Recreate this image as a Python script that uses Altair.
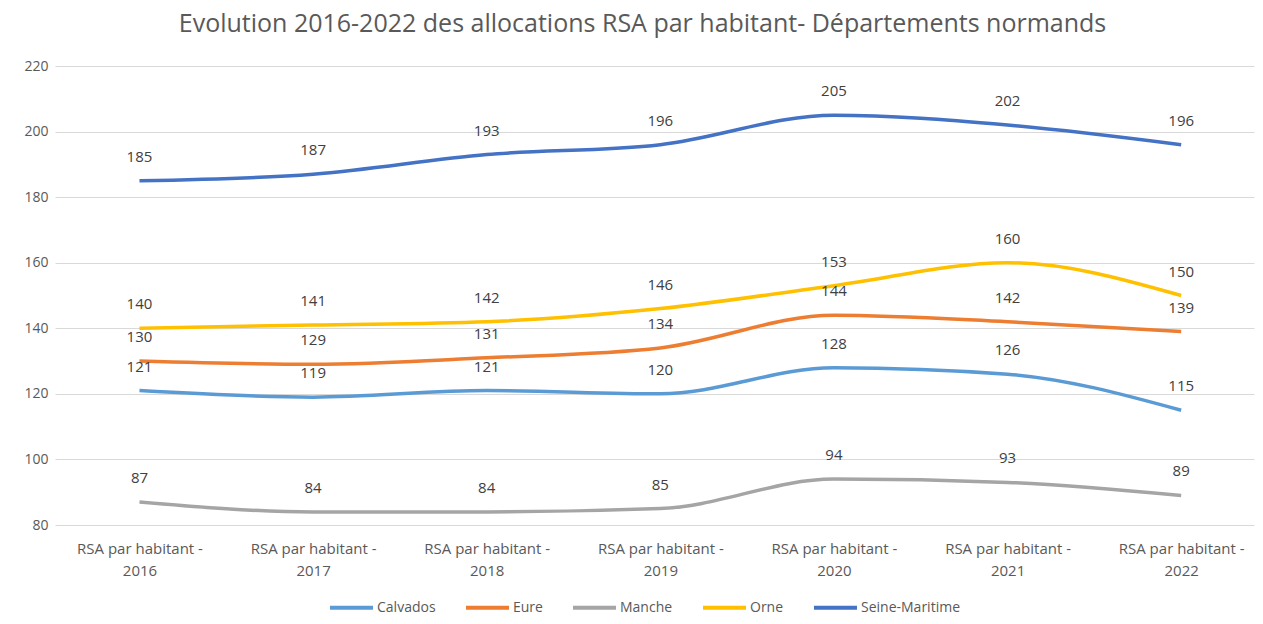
import altair as alt
import pandas as pd

years = ["RSA par habitant - 2016", "RSA par habitant - 2017", "RSA par habitant - 2018",
         "RSA par habitant - 2019", "RSA par habitant - 2020", "RSA par habitant - 2021",
         "RSA par habitant - 2022"]
departements = ["Calvados", "Eure", "Manche", "Orne", "Seine-Maritime"]
calvados = [121, 119, 121, 120, 128, 126, 115]
eure = [130, 129, 131, 134, 144, 142, 139]
manche = [87, 84, 84, 85, 94, 93, 89]
orne = [140, 141, 142, 146, 153, 160, 150]
seine_maritime = [185, 187, 193, 196, 205, 202, 196]
colors = ["#5B9BD5", "#ED7D31", "#A5A5A5", "#FFC000", "#4472C4"]
y_ticks = [80, 100, 120, 140, 160, 180, 200, 220]

series = [calvados, eure, manche, orne, seine_maritime]
rows = []
for d, vals in zip(departements, series):
    for i, (yr, v) in enumerate(zip(years, vals)):
        rows.append({"annee": yr, "ordre": i, "departement": d, "valeur": v})
df = pd.DataFrame(rows)

FONT = "Open Sans"
GREY = "#595959"

x_enc = alt.X("annee:N", sort=years, title=None,
              scale=alt.Scale(type="point", padding=0.453, align=0.537),
              axis=alt.Axis(labelExpr="[slice(datum.label, 0, 18), slice(datum.label, 19)]",
                            labelAngle=0, labelFontSize=15, labelColor=GREY, labelFont=FONT,
                            labelLineHeight=22, labelPadding=16, domain=False, ticks=False,
                            grid=False, labelBaseline="top"))
y_enc = alt.Y("valeur:Q", title=None,
              scale=alt.Scale(domain=[80, 220], nice=False, zero=False),
              axis=alt.Axis(values=y_ticks, labelFontSize=14, labelColor=GREY, labelFont=FONT,
                            labelPadding=7, domain=False, ticks=False, grid=True,
                            gridColor="#D9D9D9", gridWidth=1))
color_enc = alt.Color("departement:N", title=None,
                      scale=alt.Scale(domain=departements, range=colors),
                      legend=alt.Legend(orient="none", direction="horizontal",
                                        legendX=273, legendY=518,
                                        symbolType="stroke", symbolSize=1849,
                                        symbolStrokeWidth=4, labelOffset=2,
                                        columnPadding=22, labelFontSize=14,
                                        labelColor=GREY, labelFont=FONT))

base = alt.Chart(df)
lines = base.mark_line(interpolate="monotone", strokeWidth=3.5).encode(
    x=x_enc, y=y_enc, color=color_enc, order="ordre:Q")
labels = base.mark_text(dy=-24, fontSize=15, color="#404040", font=FONT).encode(
    x=alt.X("annee:N", sort=years), y="valeur:Q", text="valeur:Q")

chart = (lines + labels).properties(
    width=1199, height=459,
    title=alt.TitleParams("Evolution  2016-2022 des allocations RSA par habitant- Départements normands",
                          fontSize=25, font=FONT, fontWeight="normal", color=GREY,
                          anchor="middle", offset=22, dx=-12),
    autosize=alt.AutoSizeParams(type="none"),
    padding={"left": 47, "top": 58, "right": 1, "bottom": 91},
).configure_view(stroke=None)

chart.save("out.html", embed_options={"renderer": "svg", "actions": False})
